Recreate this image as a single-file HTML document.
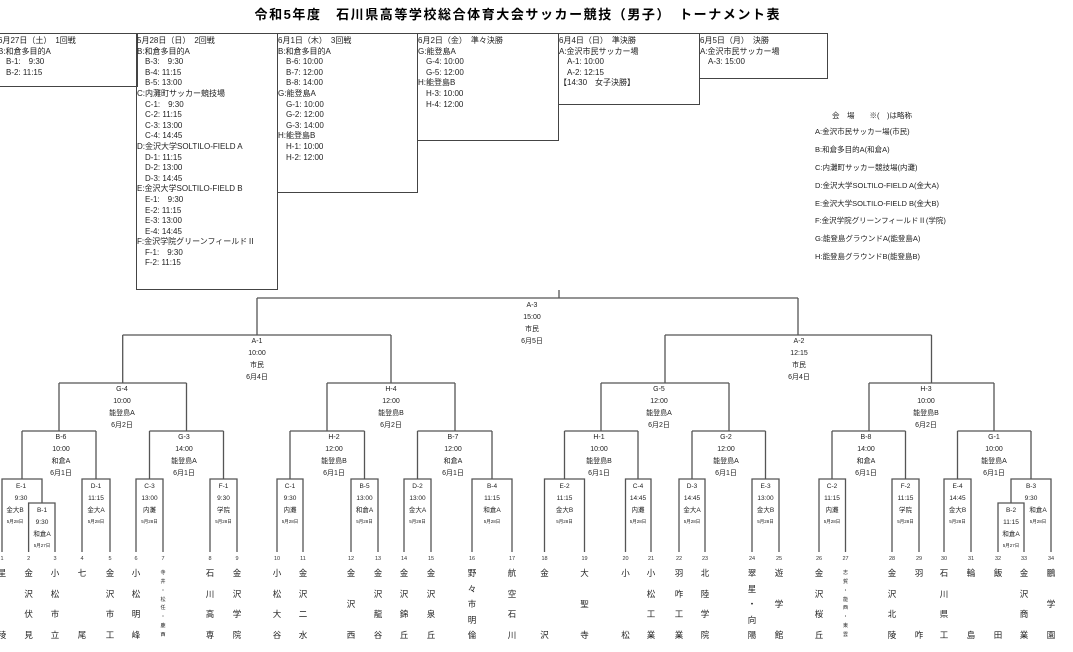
<!DOCTYPE html>
<html><head><meta charset="utf-8">
<style>
body{margin:0;background:#fff;width:1073px;height:652px;overflow:hidden;position:relative;font-family:"Liberation Sans","Noto Sans CJK JP",sans-serif;color:#222}
.box{position:absolute;border:1px solid #444;box-sizing:border-box;font-size:8px;line-height:10.6px;padding-top:2px;white-space:nowrap;overflow:hidden}
.box div.i{padding-left:8px}
.nm{position:absolute;top:568px;height:72px;width:12px;display:flex;flex-direction:column;justify-content:space-between;align-items:center;font-size:8.5px;line-height:10px}
.nm.s{font-size:5px;line-height:6px;height:68px;top:570px}
.lg{position:absolute;left:815px;font-size:7.5px;white-space:nowrap}
</style></head><body>
<svg width="1073" height="652" style="position:absolute;left:0;top:0" font-family="Liberation Sans, Noto Sans CJK JP, sans-serif">
<text x="517" y="19" text-anchor="middle" font-size="13" font-weight="bold" textLength="525">令和5年度　石川県高等学校総合体育大会サッカー競技（男子）　トーナメント表</text>
<g stroke="#555" stroke-width="1.3" fill="none">
<path d="M559 290V298M257 298H798M257 298V335M798 298V335"/>
<path d="M122.7 335H391M665 335H931.5"/>
<path d="M122.7 335V383M391 335V383M665 335V383M931.5 335V383"/>
<path d="M59 383H186.5M327 383H455M601 383H729M869 383H994"/>
<path d="M59 383V431M186.5 383V431M327 383V431M455 383V431M601 383V431M729 383V431M869 383V431M994 383V431"/>
<path d="M22 431H96M149.5 431H223.5M290 431H364.5M417.5 431H492M564.5 431H638M692 431H765.5M832 431H905.5M957.5 431H1031"/>
<path d="M22 431V479M96 431V479M149.5 431V479M223.5 431V479M290 431V479M364.5 431V479M417.5 431V479M492 431V479M564.5 431V479M638 431V479M692 431V479M765.5 431V479M832 431V479M905.5 431V479M957.5 431V479M1031 431V479"/>
<path d="M2 552V479H42V503M28.6 552V503H55V552"/>
<path d="M82 552V479H110V552M136 552V479H163V552M210 552V479H237V552M277 552V479H303V552M351 552V479H378V552M404 552V479H431V552M472 552V479H512V552"/>
<path d="M544.5 552V479H584.5V552M625.5 552V479H651V552M679 552V479H705V552M752 552V479H779V552M819 552V479H845.5V552M892 552V479H919V552M944 552V479H971V552"/>
<path d="M1011 503V479H1051V552M998 552V503H1024V552"/>
</g>
<g font-size="7" text-anchor="middle" fill="#222">
<text x="532" y="307">A-3</text><text x="532" y="319">15:00</text><text x="532" y="331">市民</text><text x="532" y="343">6月5日</text>
<text x="257" y="343">A-1</text><text x="257" y="355">10:00</text><text x="257" y="367">市民</text><text x="257" y="379">6月4日</text>
<text x="799" y="343">A-2</text><text x="799" y="355">12:15</text><text x="799" y="367">市民</text><text x="799" y="379">6月4日</text>
<text x="122" y="391">G-4</text><text x="122" y="403">10:00</text><text x="122" y="415">能登島A</text><text x="122" y="427">6月2日</text>
<text x="391" y="391">H-4</text><text x="391" y="403">12:00</text><text x="391" y="415">能登島B</text><text x="391" y="427">6月2日</text>
<text x="659" y="391">G-5</text><text x="659" y="403">12:00</text><text x="659" y="415">能登島A</text><text x="659" y="427">6月2日</text>
<text x="926" y="391">H-3</text><text x="926" y="403">10:00</text><text x="926" y="415">能登島B</text><text x="926" y="427">6月2日</text>
<text x="61" y="439">B-6</text><text x="61" y="451">10:00</text><text x="61" y="463">和倉A</text><text x="61" y="475">6月1日</text>
<text x="184" y="439">G-3</text><text x="184" y="451">14:00</text><text x="184" y="463">能登島A</text><text x="184" y="475">6月1日</text>
<text x="334" y="439">H-2</text><text x="334" y="451">12:00</text><text x="334" y="463">能登島B</text><text x="334" y="475">6月1日</text>
<text x="453" y="439">B-7</text><text x="453" y="451">12:00</text><text x="453" y="463">和倉A</text><text x="453" y="475">6月1日</text>
<text x="599" y="439">H-1</text><text x="599" y="451">10:00</text><text x="599" y="463">能登島B</text><text x="599" y="475">6月1日</text>
<text x="726" y="439">G-2</text><text x="726" y="451">12:00</text><text x="726" y="463">能登島A</text><text x="726" y="475">6月1日</text>
<text x="866" y="439">B-8</text><text x="866" y="451">14:00</text><text x="866" y="463">和倉A</text><text x="866" y="475">6月1日</text>
<text x="994" y="439">G-1</text><text x="994" y="451">10:00</text><text x="994" y="463">能登島A</text><text x="994" y="475">6月1日</text>
</g>
<g font-size="6.5" text-anchor="middle" fill="#222">
<text x="21" y="488">E-1</text><text x="21" y="500">9:30</text><text x="15" y="512">金大B</text><text x="15" y="523" font-size="4.5">5月28日</text>
<text x="42" y="512">B-1</text><text x="42" y="524">9:30</text><text x="42" y="536">和倉A</text><text x="42" y="547" font-size="4.5">5月27日</text>
<text x="1011" y="512">B-2</text><text x="1011" y="524">11:15</text><text x="1011" y="536">和倉A</text><text x="1011" y="547" font-size="4.5">5月27日</text>
<text x="1031" y="488">B-3</text><text x="1031" y="500">9:30</text><text x="1038" y="512">和倉A</text><text x="1038" y="523" font-size="4.5">5月28日</text>
</g>
<g font-size="6.5" text-anchor="middle" fill="#222">
<g transform="translate(96,0)"><text y="488">D-1</text><text y="500">11:15</text><text y="512">金大A</text><text y="523" font-size="4.5">5月28日</text></g>
<g transform="translate(149.5,0)"><text y="488">C-3</text><text y="500">13:00</text><text y="512">内灘</text><text y="523" font-size="4.5">5月28日</text></g>
<g transform="translate(223.5,0)"><text y="488">F-1</text><text y="500">9:30</text><text y="512">学院</text><text y="523" font-size="4.5">5月28日</text></g>
<g transform="translate(290,0)"><text y="488">C-1</text><text y="500">9:30</text><text y="512">内灘</text><text y="523" font-size="4.5">5月28日</text></g>
<g transform="translate(364.5,0)"><text y="488">B-5</text><text y="500">13:00</text><text y="512">和倉A</text><text y="523" font-size="4.5">5月28日</text></g>
<g transform="translate(417.5,0)"><text y="488">D-2</text><text y="500">13:00</text><text y="512">金大A</text><text y="523" font-size="4.5">5月28日</text></g>
<g transform="translate(492,0)"><text y="488">B-4</text><text y="500">11:15</text><text y="512">和倉A</text><text y="523" font-size="4.5">5月28日</text></g>
<g transform="translate(564.5,0)"><text y="488">E-2</text><text y="500">11:15</text><text y="512">金大B</text><text y="523" font-size="4.5">5月28日</text></g>
<g transform="translate(638,0)"><text y="488">C-4</text><text y="500">14:45</text><text y="512">内灘</text><text y="523" font-size="4.5">5月28日</text></g>
<g transform="translate(692,0)"><text y="488">D-3</text><text y="500">14:45</text><text y="512">金大A</text><text y="523" font-size="4.5">5月28日</text></g>
<g transform="translate(765.5,0)"><text y="488">E-3</text><text y="500">13:00</text><text y="512">金大B</text><text y="523" font-size="4.5">5月28日</text></g>
<g transform="translate(832,0)"><text y="488">C-2</text><text y="500">11:15</text><text y="512">内灘</text><text y="523" font-size="4.5">5月28日</text></g>
<g transform="translate(905.5,0)"><text y="488">F-2</text><text y="500">11:15</text><text y="512">学院</text><text y="523" font-size="4.5">5月28日</text></g>
<g transform="translate(957.5,0)"><text y="488">E-4</text><text y="500">14:45</text><text y="512">金大B</text><text y="523" font-size="4.5">5月28日</text></g>
</g>
<g font-size="5.5" text-anchor="middle" fill="#333">
<text x="2" y="560">1</text><text x="28.6" y="560">2</text><text x="55" y="560">3</text><text x="82" y="560">4</text><text x="110" y="560">5</text><text x="136" y="560">6</text><text x="163" y="560">7</text><text x="210" y="560">8</text><text x="237" y="560">9</text><text x="277" y="560">10</text><text x="303" y="560">11</text><text x="351" y="560">12</text><text x="378" y="560">13</text><text x="404" y="560">14</text><text x="431" y="560">15</text><text x="472" y="560">16</text><text x="512" y="560">17</text>
<text x="544.5" y="560">18</text><text x="584.5" y="560">19</text><text x="625.5" y="560">20</text><text x="651" y="560">21</text><text x="679" y="560">22</text><text x="705" y="560">23</text><text x="752" y="560">24</text><text x="779" y="560">25</text><text x="819" y="560">26</text><text x="845.5" y="560">27</text><text x="892" y="560">28</text><text x="919" y="560">29</text><text x="944" y="560">30</text><text x="971" y="560">31</text><text x="998" y="560">32</text><text x="1024" y="560">33</text><text x="1051" y="560">34</text>
</g>
</svg>

<div class="box" style="left:-3px;top:33px;width:141px;height:54px"><div>6月27日（土）　1回戦</div><div>B:和倉多目的A</div><div class="i">B-1:　9:30</div><div class="i">B-2: 11:15</div></div>
<div class="box" style="left:136px;top:33px;width:142px;height:257px"><div>5月28日（日）　2回戦</div><div>B:和倉多目的A</div><div class="i">B-3:　9:30</div><div class="i">B-4: 11:15</div><div class="i">B-5: 13:00</div><div>C:内灘町サッカー競技場</div><div class="i">C-1:　9:30</div><div class="i">C-2: 11:15</div><div class="i">C-3: 13:00</div><div class="i">C-4: 14:45</div><div>D:金沢大学SOLTILO-FIELD A</div><div class="i">D-1: 11:15</div><div class="i">D-2: 13:00</div><div class="i">D-3: 14:45</div><div>E:金沢大学SOLTILO-FIELD B</div><div class="i">E-1:　9:30</div><div class="i">E-2: 11:15</div><div class="i">E-3: 13:00</div><div class="i">E-4: 14:45</div><div>F:金沢学院グリーンフィールドⅡ</div><div class="i">F-1:　9:30</div><div class="i">F-2: 11:15</div></div>
<div class="box" style="left:277px;top:33px;width:141px;height:160px"><div>6月1日（木）　3回戦</div><div>B:和倉多目的A</div><div class="i">B-6: 10:00</div><div class="i">B-7: 12:00</div><div class="i">B-8: 14:00</div><div>G:能登島A</div><div class="i">G-1: 10:00</div><div class="i">G-2: 12:00</div><div class="i">G-3: 14:00</div><div>H:能登島B</div><div class="i">H-1: 10:00</div><div class="i">H-2: 12:00</div></div>
<div class="box" style="left:417px;top:33px;width:142px;height:108px"><div>6月2日（金）　準々決勝</div><div>G:能登島A</div><div class="i">G-4: 10:00</div><div class="i">G-5: 12:00</div><div>H:能登島B</div><div class="i">H-3: 10:00</div><div class="i">H-4: 12:00</div></div>
<div class="box" style="left:558px;top:33px;width:142px;height:72px"><div>6月4日（日）　準決勝</div><div>A:金沢市民サッカー場</div><div class="i">A-1: 10:00</div><div class="i">A-2: 12:15</div><div>【14:30　女子決勝】</div></div>
<div class="box" style="left:699px;top:33px;width:129px;height:46px"><div>6月5日（月）　決勝</div><div>A:金沢市民サッカー場</div><div class="i">A-3: 15:00</div></div>

<div class="lg" style="top:110px;left:832px">会　場　　※(　)は略称</div>
<div class="lg" style="top:126px">A:金沢市民サッカー場(市民)</div>
<div class="lg" style="top:144px">B:和倉多目的A(和倉A)</div>
<div class="lg" style="top:162px">C:内灘町サッカー競技場(内灘)</div>
<div class="lg" style="top:180px">D:金沢大学SOLTILO-FIELD A(金大A)</div>
<div class="lg" style="top:198px">E:金沢大学SOLTILO-FIELD B(金大B)</div>
<div class="lg" style="top:215px">F:金沢学院グリーンフィールドⅡ(学院)</div>
<div class="lg" style="top:233px">G:能登島グラウンドA(能登島A)</div>
<div class="lg" style="top:251px">H:能登島グラウンドB(能登島B)</div>

<div class="nm" style="left:-4px"><span>星</span><span>稜</span></div>
<div class="nm" style="left:22.6px"><span>金</span><span>沢</span><span>伏</span><span>見</span></div>
<div class="nm" style="left:49px"><span>小</span><span>松</span><span>市</span><span>立</span></div>
<div class="nm" style="left:76px"><span>七</span><span>尾</span></div>
<div class="nm" style="left:104px"><span>金</span><span>沢</span><span>市</span><span>工</span></div>
<div class="nm" style="left:130px"><span>小</span><span>松</span><span>明</span><span>峰</span></div>
<div class="nm s" style="left:157px"><span>寺</span><span>井</span><span>・</span><span>松</span><span>任</span><span>・</span><span>鹿</span><span>西</span></div>
<div class="nm" style="left:204px"><span>石</span><span>川</span><span>高</span><span>専</span></div>
<div class="nm" style="left:231px"><span>金</span><span>沢</span><span>学</span><span>院</span></div>
<div class="nm" style="left:271px"><span>小</span><span>松</span><span>大</span><span>谷</span></div>
<div class="nm" style="left:297px"><span>金</span><span>沢</span><span>二</span><span>水</span></div>
<div class="nm" style="left:345px"><span>金</span><span>沢</span><span>西</span></div>
<div class="nm" style="left:372px"><span>金</span><span>沢</span><span>龍</span><span>谷</span></div>
<div class="nm" style="left:398px"><span>金</span><span>沢</span><span>錦</span><span>丘</span></div>
<div class="nm" style="left:425px"><span>金</span><span>沢</span><span>泉</span><span>丘</span></div>
<div class="nm" style="left:466px"><span>野</span><span>々</span><span>市</span><span>明</span><span>倫</span></div>
<div class="nm" style="left:506px"><span>航</span><span>空</span><span>石</span><span>川</span></div>
<div class="nm" style="left:538.5px"><span>金</span><span>沢</span></div>
<div class="nm" style="left:578.5px"><span>大</span><span>聖</span><span>寺</span></div>
<div class="nm" style="left:619.5px"><span>小</span><span>松</span></div>
<div class="nm" style="left:645px"><span>小</span><span>松</span><span>工</span><span>業</span></div>
<div class="nm" style="left:673px"><span>羽</span><span>咋</span><span>工</span><span>業</span></div>
<div class="nm" style="left:699px"><span>北</span><span>陸</span><span>学</span><span>院</span></div>
<div class="nm" style="left:746px"><span>翠</span><span>星</span><span>・</span><span>向</span><span>陽</span></div>
<div class="nm" style="left:773px"><span>遊</span><span>学</span><span>館</span></div>
<div class="nm" style="left:813px"><span>金</span><span>沢</span><span>桜</span><span>丘</span></div>
<div class="nm s" style="left:839.5px"><span>志</span><span>賀</span><span>・</span><span>能</span><span>西</span><span>・</span><span>東</span><span>雲</span></div>
<div class="nm" style="left:886px"><span>金</span><span>沢</span><span>北</span><span>陵</span></div>
<div class="nm" style="left:913px"><span>羽</span><span>咋</span></div>
<div class="nm" style="left:938px"><span>石</span><span>川</span><span>県</span><span>工</span></div>
<div class="nm" style="left:965px"><span>輪</span><span>島</span></div>
<div class="nm" style="left:992px"><span>飯</span><span>田</span></div>
<div class="nm" style="left:1018px"><span>金</span><span>沢</span><span>商</span><span>業</span></div>
<div class="nm" style="left:1045px"><span>鵬</span><span>学</span><span>園</span></div>
</body></html>
